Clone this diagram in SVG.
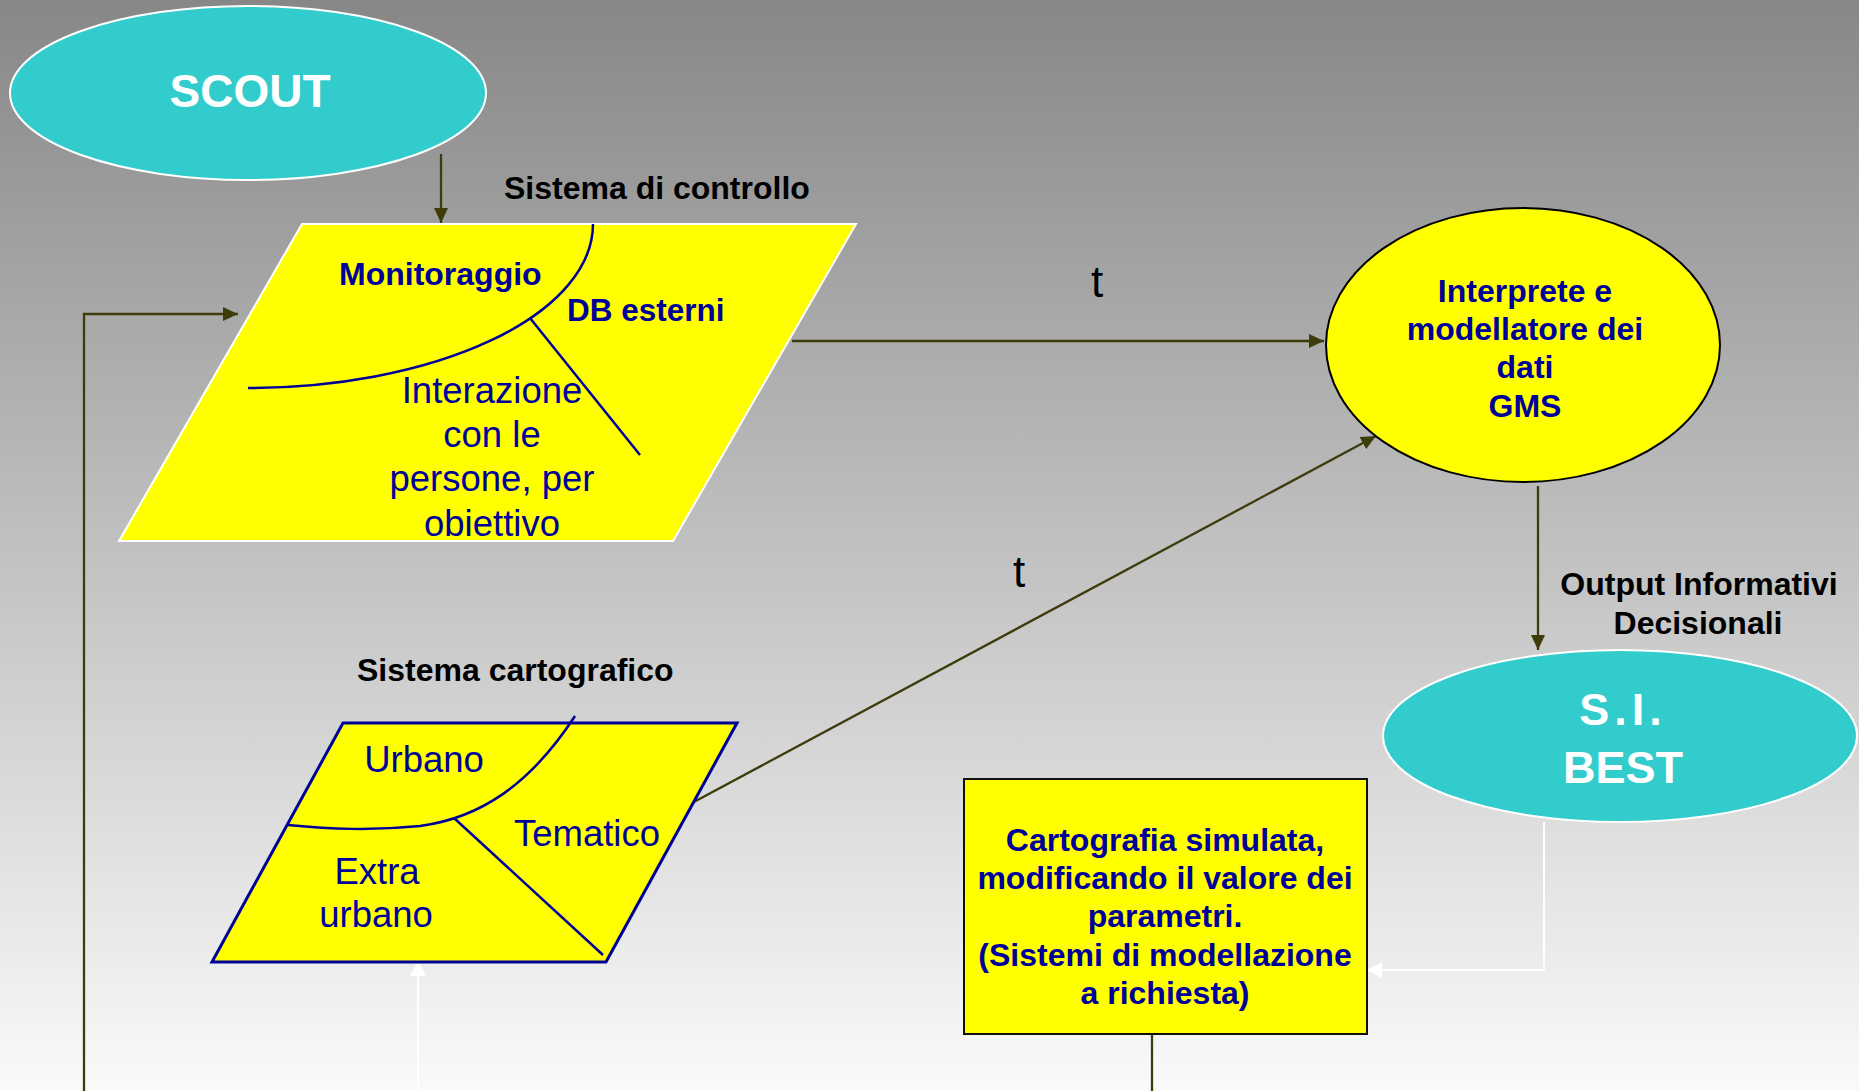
<svg xmlns="http://www.w3.org/2000/svg" width="1859" height="1091" viewBox="0 0 1859 1091">
<style>
.bg{fill:url(#bgGrad)}
.yel{fill:#FFFF00}
.cyan{fill:#33CCCC;stroke:#FFFFFF;stroke-width:2}
.navyline{fill:none;stroke:#000099;stroke-width:2.5}
.conn{fill:none;stroke:#3F3C0C;stroke-width:2.3}
.wconn{fill:none;stroke:#FFFFFF;stroke-width:2}
text{font-family:"Liberation Sans",Arial,sans-serif}
.lbl{font-size:32px;font-weight:bold;fill:#000000}
.nb{font-size:32px;font-weight:bold;fill:#000099;text-anchor:middle}
.nr{font-size:36.5px;fill:#000099;text-anchor:middle}
.wt{font-weight:bold;fill:#FFFFFF;text-anchor:middle}
.t{font-size:44px;fill:#000000;text-anchor:middle}
</style>
<defs>
<linearGradient id="bgGrad" x1="0" y1="0" x2="0" y2="1">
<stop offset="0" stop-color="#878787"/>
<stop offset="1" stop-color="#FAFAFA"/>
</linearGradient>
<marker id="arr" markerUnits="userSpaceOnUse" markerWidth="16" markerHeight="14" refX="15" refY="7" orient="auto">
<path d="M0,0 L15,7 L0,14 z" fill="#3F3C0C"/>
</marker>
<marker id="warr" markerUnits="userSpaceOnUse" markerWidth="16" markerHeight="16" refX="15" refY="8" orient="auto">
<path d="M0,0 L15,8 L0,16 z" fill="#FFFFFF"/>
</marker>
</defs>
<rect class="bg" x="0" y="0" width="1859" height="1091"/>

<g id="connectors">
<path class="conn" d="M441,154 L441,223" marker-end="url(#arr)"/>
<path class="conn" d="M84,1091 L84,314 L238,314" marker-end="url(#arr)"/>
<path class="conn" d="M792,341 L1324,341" marker-end="url(#arr)"/>
<path class="conn" d="M692,803 L1376,436" marker-end="url(#arr)"/>
<path class="conn" d="M1538,486 L1538,650" marker-end="url(#arr)"/>
<path class="wconn" d="M1544,822 L1544,970 L1367,970" marker-end="url(#warr)"/>
<path class="wconn" d="M418,1091 L418,961" marker-end="url(#warr)"/>
<path class="conn" d="M1152,1034 L1152,1091"/>
</g>

<g id="node-scout">
<ellipse class="cyan" cx="248" cy="93" rx="238" ry="87"/>
<text class="wt" x="250" y="107" font-size="46">SCOUT</text>
</g>

<g id="node-controllo">
<text class="lbl" x="504" y="199">Sistema di controllo</text>
<polygon class="yel" points="302,224 856,224 673,541 119,541" stroke="#FFFFFF" stroke-width="2"/>
<path class="navyline" d="M593,224 A345,164 0 0 1 248,388"/>
<path class="navyline" d="M530,318 L640,455"/>
<text x="339" y="285" font-size="32" font-weight="bold" fill="#000099">Monitoraggio</text>
<text x="567" y="321" font-size="31.5" font-weight="bold" fill="#000099">DB esterni</text>
<text class="nr" x="492" y="403">Interazione</text>
<text class="nr" x="492" y="447">con le</text>
<text class="nr" x="492" y="491">persone, per</text>
<text class="nr" x="492" y="536">obiettivo</text>
</g>

<g id="node-cartografico">
<text class="lbl" x="357" y="681">Sistema cartografico</text>
<polygon class="yel" points="343,723 737,723 606,962 212,962" stroke="#000099" stroke-width="3"/>
<path class="navyline" d="M575,716 C530,785 480,818 420,826 C370,831 330,829 288,825" stroke-width="3"/>
<path class="navyline" d="M454,818 L603,955" stroke-width="3"/>
<text class="nr" x="424" y="772">Urbano</text>
<text class="nr" x="587" y="846">Tematico</text>
<text class="nr" x="377" y="884">Extra</text>
<text class="nr" x="376" y="927">urbano</text>
</g>

<g id="node-gms">
<ellipse class="yel" cx="1523" cy="345" rx="197" ry="137" stroke="#000000" stroke-width="2"/>
<text class="nb" x="1525" y="302">Interprete e</text>
<text class="nb" x="1525" y="340">modellatore dei</text>
<text class="nb" x="1525" y="378">dati</text>
<text class="nb" x="1525" y="417">GMS</text>
</g>

<g id="node-best">
<ellipse class="cyan" cx="1620" cy="736" rx="237" ry="86"/>
<text class="wt" x="1623" y="725" font-size="45" letter-spacing="5">S.I.</text>
<text class="wt" x="1623" y="783" font-size="45">BEST</text>
</g>

<g id="node-cartografia-simulata">
<rect class="yel" x="964" y="779" width="403" height="255" stroke="#111111" stroke-width="2"/>
<text class="nb" x="1165" y="851">Cartografia simulata,</text>
<text class="nb" x="1165" y="889">modificando il valore dei</text>
<text class="nb" x="1165" y="927">parametri.</text>
<text class="nb" x="1165" y="966">(Sistemi di modellazione</text>
<text class="nb" x="1165" y="1004">a richiesta)</text>
</g>

<g id="labels">
<text class="t" x="1097" y="297">t</text>
<text class="t" x="1019" y="587">t</text>
<text class="lbl" x="1699" y="595" text-anchor="middle">Output Informativi</text>
<text class="lbl" x="1698" y="634" text-anchor="middle">Decisionali</text>
</g>
</svg>
